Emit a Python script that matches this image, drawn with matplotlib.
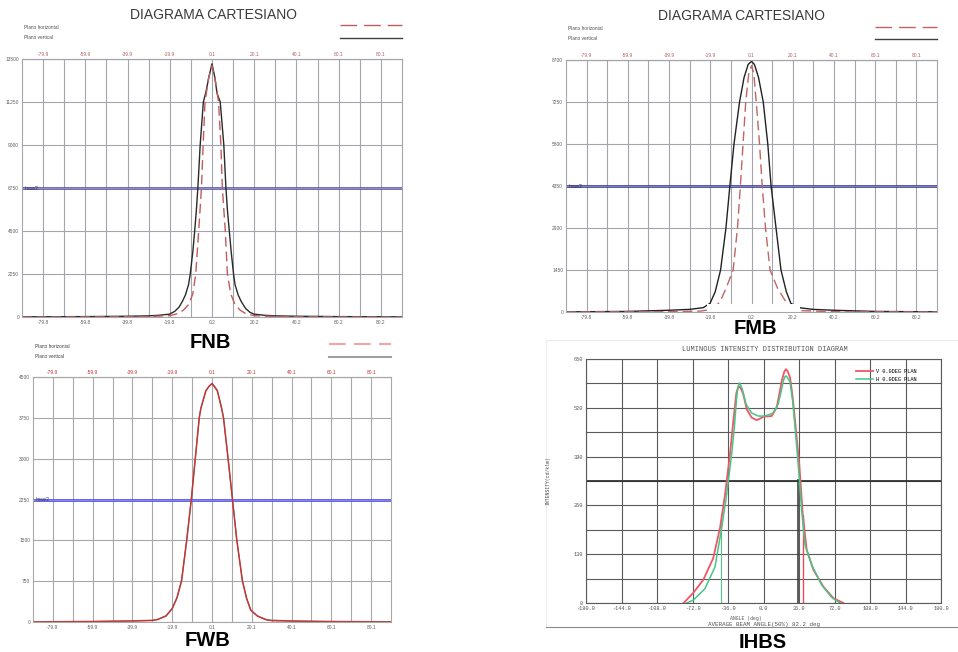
"""Four beam profile charts (FNB, FMB, FWB, IHBS) on one sheet
"""
import matplotlib
matplotlib.use("Agg")
import matplotlib.pyplot as plt
from matplotlib.lines import Line2D
from matplotlib.patches import Rectangle

plt.rcParams["font.family"] = ["Liberation Sans", "DejaVu Sans"]

################################################################################
# shared angle axis of the three "cartesiano" charts
grid_x = [-79.9, -69.9, -59.9, -49.9, -39.9, -29.9, -19.9, -9.9, 0.1,
          10.1, 20.1, 30.1, 40.1, 50.1, 60.1, 70.1, 80.1]
top_labels = ["-79.9", "", "-59.9", "", "-39.9", "", "-19.9", "", "0.1",
              "", "20.1", "", "40.1", "", "60.1", "", "80.1"]
bottom_labels_fnb = ["-79.8", "", "-59.8", "", "-39.8", "", "-19.8", "", "0.2",
                     "", "20.2", "", "40.2", "", "60.2", "", "80.2"]
bottom_labels_fmb = bottom_labels_fnb
bottom_labels_fwb = top_labels

# FNB
fnb_yticks = [0, 2250, 4500, 6750, 9000, 11250, 13500]
fnb_half = 6750
fnb_v_ang = [-89.9, -60, -40, -30, -25, -20, -17.5, -15.5, -14, -12.5,
             -11, -10.2, -9, -8.1, -7.3, -6.6, -5.5, -4, -2.8, -1.5,
             0.1, 1.5, 2.5, 4, 5.7, 6.7, 7.4, 8.3, 9.2, 10.3,
             11, 12.5, 14, 16, 18, 20, 25, 30, 40, 60, 90.1]
fnb_v_val = [10, 20, 40, 60, 90, 150, 300, 520, 800, 1150,
             1700, 2250, 3400, 4500, 5600, 6750, 9000, 11250, 11750, 12500,
             13250, 12500, 11700, 11250, 9000, 6750, 5600, 4500, 3400, 2250,
             1700, 1150, 800, 450, 250, 150, 90, 60, 40, 20, 10]
fnb_h_ang = [-89.9, -60, -40, -30, -20, -16, -13.3, -11, -9, -7.6,
             -6.2, -4.9, -4.1, -3.2, -1.5, 0.1, 1.5, 3.2, 4.3, 5.0,
             6.4, 7.4, 9, 11, 13.3, 16, 20, 30, 40, 60, 90.1]
fnb_h_val = [0, 5, 15, 25, 70, 180, 370, 650, 1200, 2250,
             4500, 6750, 9000, 11250, 12500, 13150, 12500, 11250, 9000, 6750,
             4500, 2250, 1200, 650, 370, 180, 70, 25, 15, 5, 0]

# FMB
fmb_yticks = [0, 1450, 2900, 4350, 5800, 7250, 8700]
fmb_half = 4350
fmb_v_ang = [-89.9, -60, -40, -30, -23.3, -20, -17.5, -14.9, -12.3, -10.4,
             -8.4, -5.7, -3.5, -1.5, 0.1, 1.5, 3.5, 5.8, 8.0, 9.6,
             12.0, 14.4, 17, 19.2, 23, 30, 40, 60, 90.1]
fmb_v_val = [5, 20, 60, 90, 150, 300, 700, 1450, 2900, 4350,
             5800, 7250, 8100, 8550, 8650, 8550, 8100, 7250, 5800, 4350,
             2900, 1450, 700, 300, 150, 90, 60, 20, 5]
fmb_h_ang = [-89.9, -40, -25, -21, -18, -15.2, -12.3, -8.8, -6.7, -5.3,
             -4.0, -2.7, -1.2, 0.1, 1.2, 2.4, 4.0, 5.3, 6.9, 9.1,
             12.8, 16.8, 19.5, 23, 40, 90.1]
fmb_h_val = [0, 10, 30, 70, 150, 350, 810, 1450, 2900, 4350,
             5800, 7250, 8250, 8500, 8250, 7250, 5800, 4350, 2900, 1450,
             810, 350, 150, 50, 10, 0]

# FWB
fwb_yticks = [0, 750, 1500, 2250, 3000, 3750, 4500]
fwb_half = 2250
fwb_ang = [-89.9, -60, -40, -30, -27.3, -23, -19.9, -17.5, -15.2, -12.6,
           -10.3, -8.3, -6.3, -5.5, -3.0, -1.5, 0.1, 1.5, 2.8, 5.0,
           5.9, 8.2, 10.4, 12.6, 15.4, 17.5, 19.6, 23, 27.3, 30,
           40, 60, 90.1]
fwb_v_val = [3, 10, 20, 30, 45, 110, 245, 450, 750, 1500,
             2250, 3000, 3750, 3920, 4250, 4320, 4380, 4320, 4250, 3920,
             3750, 3000, 2250, 1500, 750, 430, 215, 110, 45, 30,
             20, 10, 3]
fwb_h_val = [0, 8, 18, 28, 45, 115, 250, 440, 770, 1520,
             2260, 3010, 3760, 3930, 4240, 4330, 4380, 4310, 4240, 3910,
             3740, 2990, 2240, 1490, 760, 440, 220, 105, 40, 25,
             15, 5, 0]

# IHBS
ihbs_xticks = [-180, -144, -108, -72, -36, 0, 36, 72, 108, 144, 180]
ihbs_xlabels = ["-180.0", "-144.0", "-108.0", "-72.0", "-36.0", "0.0",
                "36.0", "72.0", "108.0", "144.0", "180.0"]
ihbs_yticks = [0, 65, 130, 195, 260, 325, 390, 455, 520, 585, 650]
ihbs_ylabels = ["0", "", "130", "", "260", "", "390", "", "520", "", "650"]
ihbs_v_ang = [-81, -71.2, -61, -50.9, -44.1, -39, -34, -30.6, -27.5, -26,
              -24.5, -23, -20.5, -17, -12, -6.9, 0, 8.3, 13.4, 16.7,
              18.5, 21.2, 22.8, 24.4, 26.9, 29.5, 32, 36.3, 39.8, 43.8,
              50.5, 60.6, 70.8, 81]
ihbs_v_val = [0, 27, 62, 120, 200, 289, 396, 485, 560, 572,
              577, 572, 556, 516, 494, 487, 496, 498, 521, 565,
              592, 617, 623, 618, 601, 550, 485, 369, 236, 142,
              89, 44, 13, 0]
ihbs_h_ang = [-78, -71, -59.4, -49.2, -42.4, -37.4, -32.3, -29.5, -27.3, -26,
              -24.5, -23, -21, -17.8, -12, -5.3, 1.4, 9.8, 14.9, 18,
              20, 21.5, 22.8, 24.2, 26.9, 29.5, 32, 35.4, 38.8, 42.1,
              48.9, 59, 69.1, 77.6]
ihbs_h_val = [0, 8, 38, 96, 200, 289, 396, 470, 545, 575,
              586, 580, 565, 530, 506, 498, 498, 506, 530, 565,
              590, 602, 605, 601, 589, 540, 469, 362, 244, 155,
              101, 48, 15, 0]
# 50% marks of the IHBS sheet: (angle, height)
ihbs_h_mark = (-43.4, 215)
ihbs_v_mark = (40.4, 235)
ihbs_dark_mark = (35.3, 330)
################################################################################

W, H = 958, 652
fig = plt.figure(figsize=(W / 100, H / 100), dpi=100)
fig.patch.set_facecolor("white")


def px_axes(l, t, r, b):
  return fig.add_axes([l / W, 1 - b / H, (r - l) / W, (b - t) / H])


def cartesian(ax, yticks, bottom_labels, grid_col, top_col, blue, half):
  ax.set_xlim(-89.9, 90.1)
  ax.set_ylim(yticks[0], yticks[-1])
  ax.set_xticks(grid_x, bottom_labels)
  ax.set_yticks(yticks, [str(v) for v in yticks])
  ax.grid(True, color=grid_col, lw=0.8)
  ax.tick_params(length=0, labelsize=3.5, pad=2, colors="#606060")
  for s in ax.spines.values():
    s.set_color(grid_col)
  top = ax.secondary_xaxis("top")
  top.set_ticks(grid_x, labels=top_labels)
  top.tick_params(length=0, labelsize=3.5, pad=1.5, labelcolor=top_col)
  top.spines["top"].set_color(grid_col)
  ax.axhline(half, color=blue, lw=1.9)
  ax.axhline(half, color="#b8b8e0", lw=0.4)
  ax.text(-88.5, half, "Imax/2", fontsize=3.3, va="center", color="#303050")


def plano_legend(ax, h_handle, v_handle, text_col):
  ax.text(0.005, 1.124, "Plano horizontal", transform=ax.transAxes,
          fontsize=3.4, va="center", color=text_col)
  ax.text(0.005, 1.085, "Plano vertical", transform=ax.transAxes,
          fontsize=3.4, va="center", color=text_col)
  ax.legend(handles=[h_handle, v_handle], labels=["", ""], loc="center right",
            bbox_to_anchor=(1.0, 1.104), frameon=False, fontsize=8,
            handlelength=5.6, handletextpad=0, borderpad=0, borderaxespad=0,
            labelspacing=0.25)


# ---------------- FNB ----------------
ax1 = px_axes(22, 59, 402, 317)
cartesian(ax1, fnb_yticks, bottom_labels_fnb, "#a4a4ac", "#b06060", "#5656a8", fnb_half)
ax1.plot(fnb_v_ang, fnb_v_val, color="#2a2a2a", lw=1.0)
ax1.plot(fnb_h_ang, fnb_h_val, color="#c05c5c", lw=1.0, dashes=(7, 3.5))
plano_legend(ax1,
             Line2D([], [], color="#c05c5c", lw=1.0, dashes=(12, 5)),
             Line2D([], [], color="#404040", lw=1.0), "#505050")
ax1.text(0.503, 1.17, "DIAGRAMA CARTESIANO", transform=ax1.transAxes,
         ha="center", va="center", fontsize=10, color="#3a3a3a")

# ---------------- FMB ----------------
ax2 = px_axes(566, 60, 937, 312)
cartesian(ax2, fmb_yticks, bottom_labels_fmb, "#a4a4ac", "#b06060", "#3a3a98", fmb_half)
ax2.plot(fmb_v_ang, fmb_v_val, color="#222222", lw=1.0)
ax2.plot(fmb_h_ang, fmb_h_val, color="#c06464", lw=1.0, dashes=(7, 3.5))
ax2.add_patch(Rectangle((-21.5, 0), 45, 270, facecolor="white", edgecolor="none",
                        zorder=2.45, clip_on=False))
plano_legend(ax2,
             Line2D([], [], color="#c06464", lw=1.0, dashes=(12, 5)),
             Line2D([], [], color="#404040", lw=1.0), "#505050")
ax2.text(0.474, 1.175, "DIAGRAMA CARTESIANO", transform=ax2.transAxes,
         ha="center", va="center", fontsize=10, color="#3a3a3a")

# ---------------- FWB ----------------
ax3 = px_axes(33, 377, 391, 622)
cartesian(ax3, fwb_yticks, bottom_labels_fwb, "#a8a8a8", "#c03030", "#4848f0", fwb_half)
ax3.plot(fwb_ang, fwb_v_val, color="#707070", lw=1.1)
ax3.plot(fwb_ang, fwb_h_val, color="#e02828", lw=0.8)
plano_legend(ax3,
             Line2D([], [], color="#f4a4a4", lw=1.5, dashes=(8, 4)),
             Line2D([], [], color="#a0a0a0", lw=1.5), "#404040")

# ---------------- IHBS ----------------
bg = px_axes(546, 340, 958, 627)
bg.set_xticks([])
bg.set_yticks([])
bg.set_zorder(-1)
for side in ["left", "top"]:
  bg.spines[side].set_color("#ececec")
bg.spines["right"].set_visible(False)
bg.spines["bottom"].set_color("#8a8a8a")

ax4 = px_axes(586, 359, 941, 603)
mono = ["Liberation Mono", "DejaVu Sans Mono"]
ax4.set_xlim(-180, 180)
ax4.set_ylim(0, 650)
ax4.set_xticks(ihbs_xticks, ihbs_xlabels, family=mono)
ax4.set_yticks(ihbs_yticks, ihbs_ylabels, family=mono)
ax4.grid(True, color="#5a5a5a", lw=0.8)
ax4.tick_params(length=0, labelsize=3.8, pad=2, colors="#555555")
for s in ax4.spines.values():
  s.set_color("#5a5a5a")
ax4.axhline(325, color="#333333", lw=1.3)
ax4.vlines(ihbs_dark_mark[0], 0, ihbs_dark_mark[1], color="#333333", lw=1.1)
ax4.vlines(ihbs_h_mark[0], 0, ihbs_h_mark[1], color="#50c88a", lw=0.8)
ax4.vlines(ihbs_v_mark[0], 0, ihbs_v_mark[1], color="#f04a5a", lw=1.0)
ax4.plot(ihbs_v_ang, ihbs_v_val, color="#f25566", lw=1.3, label="V 0.0DEG PLAN")
ax4.plot(ihbs_h_ang, ihbs_h_val, color="#46c686", lw=1.1, label="H 0.0DEG PLAN")
ax4.legend(loc="upper right", bbox_to_anchor=(0.94, 0.97), frameon=False,
           prop={"family": mono, "size": 3.8}, handlelength=3.2,
           handletextpad=0.6, labelspacing=0.5, borderpad=0)
ax4.set_xlabel("ANGLE (deg)", family=mono, fontsize=3.4, color="#555555")
ax4.xaxis.set_label_coords(0.45, -0.053)
ax4.set_ylabel("INTENSITY(cd/klm)", family=mono, fontsize=3.4, color="#555555")
ax4.yaxis.set_label_coords(-0.099, 0.5)
ax4.text(0.5, -0.088, "AVERAGE BEAM ANGLE(50%) 82.2 deg", transform=ax4.transAxes,
         family=mono, fontsize=4.2, ha="center", va="center", color="#555555")
ax4.text(0.504, 1.037, "LUMINOUS INTENSITY DISTRIBUTION DIAGRAM",
         transform=ax4.transAxes, family=mono, fontsize=5.0, ha="center",
         va="center", color="#555555")

# ---------------- panel names ----------------
for x, y, name in [(210, 342, "FNB"), (755, 329, "FMB"),
                   (207, 641, "FWB"), (763, 643, "IHBS")]:
  fig.text(x / W, 1 - y / H, name, ha="center", va="center",
           fontsize=14.5, fontweight="bold", color="black")

fig.savefig("out.png", dpi=100)
